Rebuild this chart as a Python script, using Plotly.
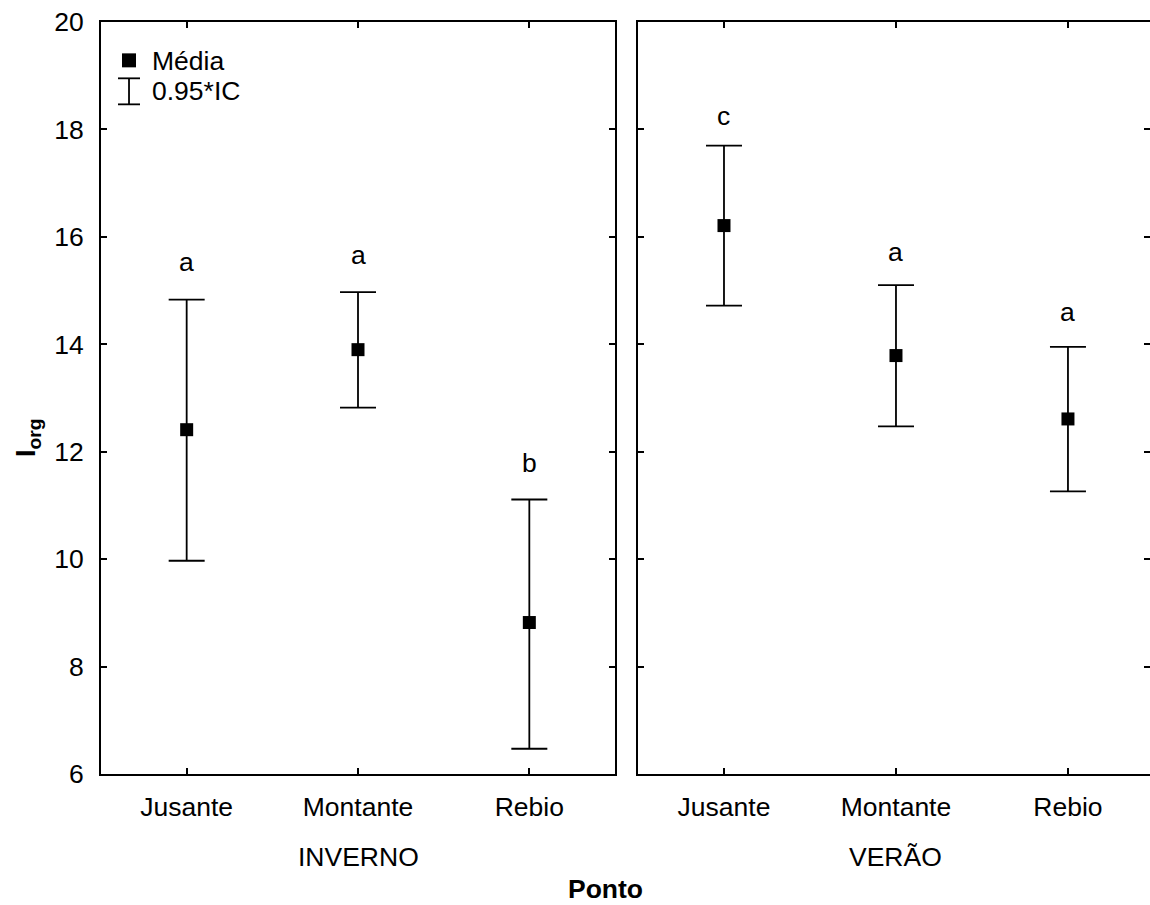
import plotly.graph_objects as go

# ---- data ----
points = ["Jusante", "Montante", "Rebio"]
seasons = ["INVERNO", "VERÃO"]

inv_mean = [12.41, 13.90, 8.82]
inv_upper = [14.83, 14.97, 11.11]
inv_lower = [9.97, 12.82, 6.47]
inv_letters = ["a", "a", "b"]
inv_letter_y = [15.49, 15.62, 11.76]

ver_mean = [16.21, 13.79, 12.61]
ver_upper = [17.70, 15.10, 13.95]
ver_lower = [14.72, 12.47, 11.26]
ver_letters = ["c", "a", "a"]
ver_letter_y = [18.22, 15.68, 14.56]

y_ticks = [6, 8, 10, 12, 14, 16, 18, 20]

FONT = "Liberation Sans, Arial, sans-serif"
FS = 26.5

fig = go.Figure()


def add_panel(mean, upper, lower, xa, ya):
    fig.add_trace(go.Scatter(
        x=points, y=mean, mode="markers",
        marker=dict(symbol="square", size=13, color="black"),
        error_y=dict(type="data", symmetric=False,
                     array=[u - m for u, m in zip(upper, mean)],
                     arrayminus=[m - l for m, l in zip(mean, lower)],
                     color="black", thickness=1.8, width=18),
        xaxis=xa, yaxis=ya, showlegend=False, hoverinfo="skip"))


add_panel(inv_mean, inv_upper, inv_lower, "x", "y")
add_panel(ver_mean, ver_upper, ver_lower, "x2", "y2")

# letters
for xs, ys, ls, xr, yr in [(points, inv_letter_y, inv_letters, "x", "y"),
                           (points, ver_letter_y, ver_letters, "x2", "y2")]:
    for xv, yv, t in zip(xs, ys, ls):
        fig.add_annotation(x=xv, y=yv, text=t, xref=xr, yref=yr, showarrow=False,
                           xanchor="center", yanchor="middle",
                           font=dict(family=FONT, size=FS, color="black"), yshift=2)

axis_common = dict(showline=True, linecolor="black", linewidth=2, ticks="inside",
                   ticklen=6, tickwidth=1.5, tickcolor="black", showgrid=False,
                   zeroline=False, tickfont=dict(family=FONT, size=FS, color="black"))

L0, L1 = 101 / 1150, 615 / 1150
R0, R1 = 638 / 1150, 1.0

fig.update_layout(
    xaxis=dict(domain=[L0, L1], range=[-0.5, 2.5], anchor="y", mirror="ticks",
               ticklabelstandoff=8, **axis_common),
    yaxis=dict(domain=[0, 1], range=[6, 20], anchor="x", mirror="ticks",
               tickvals=y_ticks, ticklabelstandoff=10, **axis_common),
    xaxis2=dict(domain=[R0, R1], range=[-0.5, 2.477], anchor="y2", mirror="ticks",
                ticklabelstandoff=8, **axis_common),
    yaxis2=dict(domain=[0, 1], range=[6, 20], anchor="x2", tickvals=y_ticks,
                showticklabels=False, **axis_common),
    yaxis3=dict(domain=[0, 1], range=[6, 20], anchor="x2", overlaying="y2", side="right",
                tickvals=y_ticks, showticklabels=False, showline=False, ticks="inside",
                ticklen=6, tickwidth=1.5, tickcolor="black", showgrid=False, zeroline=False),
    width=1150, height=905,
    margin=dict(l=0, r=0, t=22, b=131),
    paper_bgcolor="white", plot_bgcolor="white",
    font=dict(family=FONT, size=FS, color="black"),
    showlegend=False,
)

# dummy trace to activate yaxis3
fig.add_trace(go.Scatter(x=[None], y=[None], xaxis="x2", yaxis="y3", showlegend=False,
                         hoverinfo="skip"))


def paper_text(x, y, text, size=FS, angle=0, xanchor="center"):
    fig.add_annotation(x=x, y=y, xref="paper", yref="paper", text=text, showarrow=False,
                       xanchor=xanchor, yanchor="middle", textangle=angle,
                       font=dict(family=FONT, size=size, color="black"))


# season labels, axis titles
paper_text((L0 + L1) / 2, -0.1104, seasons[0])
paper_text((R0 + 1152 / 1150) / 2, -0.1104, seasons[1])
paper_text(605 / 1150, -0.1535, "<b>Ponto</b>")
paper_text(27 / 1150, 0.448, "<b>I<sub>org</sub></b>", size=FS + 1, angle=-90)

# legend (drawn inside the left panel)
fig.add_shape(type="rect", xref="x domain", yref="y domain", x0=0.0409, x1=0.0681,
              y0=0.9397, y1=0.9583, fillcolor="black", line=dict(width=0))
fig.add_shape(type="line", xref="x domain", yref="y domain", x0=0.0545, x1=0.0545,
              y0=0.8905, y1=0.9251, line=dict(color="black", width=1.8))
fig.add_shape(type="line", xref="x domain", yref="y domain", x0=0.0331, x1=0.0759,
              y0=0.8905, y1=0.8905, line=dict(color="black", width=1.8))
fig.add_shape(type="line", xref="x domain", yref="y domain", x0=0.0331, x1=0.0759,
              y0=0.9251, y1=0.9251, line=dict(color="black", width=1.8))
paper_text(150 / 1150, 0.9481, "Média", xanchor="left")
paper_text(150 / 1150, 0.9078, "0.95*IC", xanchor="left")

fig.write_html("out.html")
